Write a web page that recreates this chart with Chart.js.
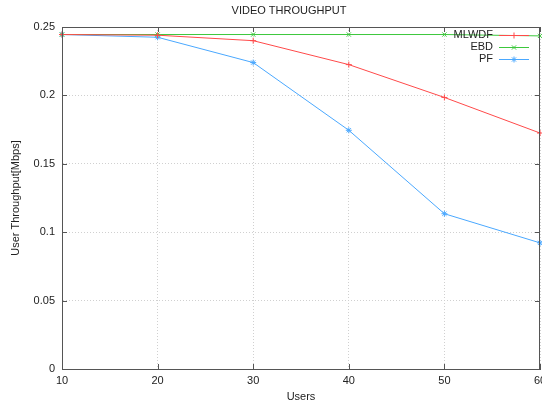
<!DOCTYPE html>
<html>
<head>
<meta charset="utf-8">
<script src="https://cdn.jsdelivr.net/npm/chart.js@4.4.0/dist/chart.umd.min.js"></script>
<style>
  html, body { margin: 0; padding: 0; background: #fff; overflow: hidden; }
  #wrap { width: 560px; height: 406px; }
</style>
</head>
<body>
<div id="wrap"><canvas id="chart"></canvas></div>
<script>
const users = [10, 20, 30, 40, 50, 60];
const mlwdf = [0.2445, 0.2440, 0.2400, 0.2225, 0.1985, 0.1725];
const ebd = [0.2445, 0.2445, 0.2445, 0.2445, 0.2445, 0.2435];
const pf = [0.2445, 0.2425, 0.2240, 0.1745, 0.1135, 0.0922];
const yTicks = [0, 0.05, 0.1, 0.15, 0.2, 0.25];

const FONT = "'Liberation Sans', Arial, sans-serif";
const TEXT = "#222";

function series(label, values, color, style) {
    return {
        label: label,
        data: users.map((u, i) => ({ x: u, y: values[i] })),
        borderColor: color,
        backgroundColor: color,
        borderWidth: 1,
        pointStyle: style,
        pointRadius: 3,
        pointBorderWidth: 1,
        tension: 0,
        clip: false
    };
}

// frame, inward ticks, title and legend like the gnuplot output
const gnuplotLook = {
    id: "gnuplotLook",
    afterDraw(chart) {
        const ctx = chart.ctx;
        const a = chart.chartArea;
        const xs = chart.scales.x, ys = chart.scales.y;
        ctx.save();
        ctx.strokeStyle = "#555";
        ctx.lineWidth = 1;
        ctx.strokeRect(a.left + 0.5, a.top + 0.5, a.right - a.left - 1, a.bottom - a.top);
        ctx.beginPath();
        users.forEach(u => {
            const px = Math.round(xs.getPixelForValue(u)) + 0.5;
            ctx.moveTo(px, a.bottom); ctx.lineTo(px, a.bottom - 5);
            ctx.moveTo(px, a.top); ctx.lineTo(px, a.top + 5);
        });
        yTicks.forEach(v => {
            const py = Math.round(ys.getPixelForValue(v)) + 0.5;
            ctx.moveTo(a.left, py); ctx.lineTo(a.left + 5, py);
            ctx.moveTo(a.right, py); ctx.lineTo(a.right - 5, py);
        });
        ctx.stroke();

        ctx.fillStyle = TEXT;
        ctx.font = "11px " + FONT;
        ctx.textAlign = "center";
        ctx.textBaseline = "middle";
        ctx.fillText("VIDEO THROUGHPUT", 289, 11);

        // legend
        const rows = [35, 47, 59];
        chart.data.datasets.forEach((ds, i) => {
            const y = rows[i];
            ctx.fillStyle = TEXT;
            ctx.textAlign = "right";
            ctx.fillText(ds.label, 493, y);
            ctx.strokeStyle = ds.borderColor;
            ctx.beginPath();
            ctx.moveTo(499, y + 0.5); ctx.lineTo(529, y + 0.5);
            ctx.stroke();
            Chart.helpers.drawPoint(ctx, { pointStyle: ds.pointStyle, radius: 3, rotation: 0, borderWidth: 1 }, 514, y + 0.5);
        });
        ctx.restore();
    }
};

new Chart(document.getElementById("chart"), {
    type: "line",
    data: {
        datasets: [
            series("MLWDF", mlwdf, "#ff4a4a", "cross"),
            series("EBD", ebd, "#3cc83c", "crossRot"),
            series("PF", pf, "#4aa8ff", "star")
        ]
    },
    options: {
        responsive: true,
        maintainAspectRatio: false,
        animation: false,
        layout: { padding: { top: 27, right: 20, left: 0, bottom: 0 } },
        plugins: {
            legend: { display: false },
            title: { display: false },
            tooltip: { enabled: false }
        },
        scales: {
            x: {
                type: "linear",
                min: 10,
                max: 60,
                afterFit(scale) { scale.height = 37; },
                afterBuildTicks(scale) { scale.ticks = users.map(v => ({ value: v })); },
                ticks: { color: TEXT, font: { family: FONT, size: 11 }, padding: 5, maxRotation: 0 },
                grid: { color: "#d0d0d0", drawTicks: false },
                border: { display: true, color: "#555", dash: [1, 2] },
                title: { display: true, text: "Users", color: TEXT, font: { family: FONT, size: 11 }, padding: { top: 0, bottom: 2 } }
            },
            y: {
                min: 0,
                max: 0.25,
                afterFit(scale) { scale.width = 62; },
                afterBuildTicks(scale) { scale.ticks = yTicks.map(v => ({ value: v })); },
                ticks: {
                    color: TEXT, font: { family: FONT, size: 11 }, padding: 7,
                    callback: v => String(v)
                },
                grid: { color: "#d0d0d0", drawTicks: false },
                border: { display: true, color: "#555", dash: [1, 2] },
                title: { display: true, text: "User Throughput[Mbps]", color: TEXT, font: { family: FONT, size: 11 }, padding: { top: 9, bottom: 0 } }
            }
        }
    },
    plugins: [gnuplotLook]
});
</script>
</body>
</html>
